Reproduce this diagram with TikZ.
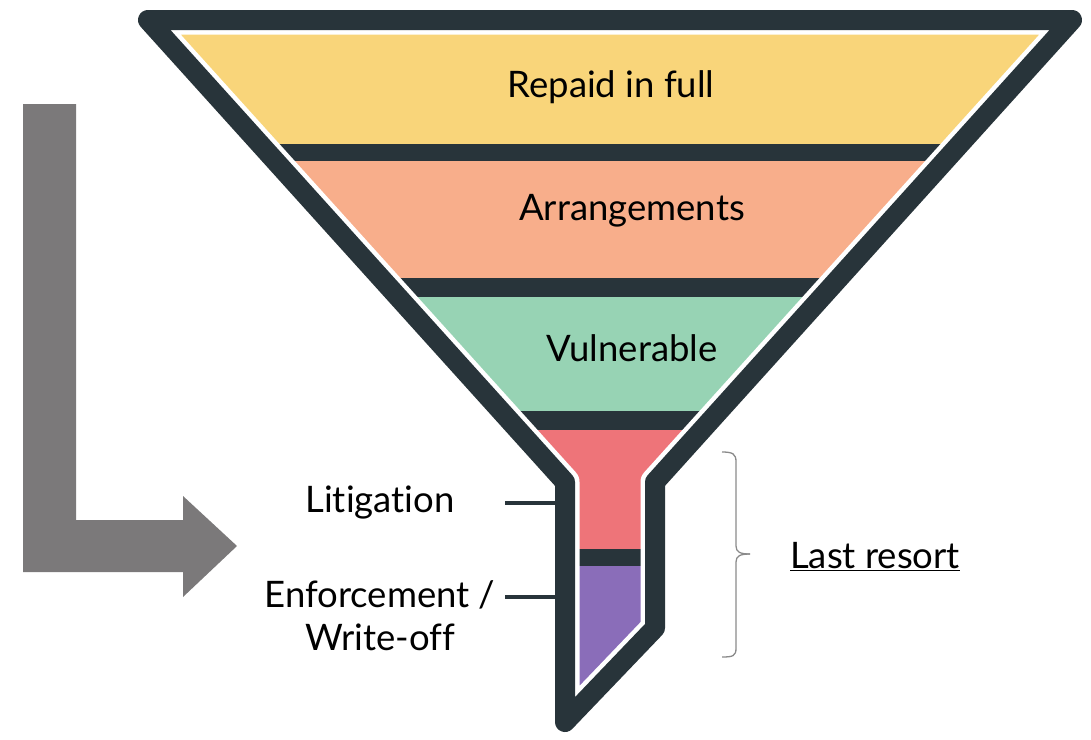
\documentclass[tikz,border=0pt]{standalone}
\usepackage{fontspec}
\setmainfont[Ligatures={NoCommon,NoRequired,NoContextual}]{Lato}
\definecolor{outl}{HTML}{28343A}
\definecolor{cyel}{HTML}{F9D57A}
\definecolor{cpea}{HTML}{F8AE8B}
\definecolor{cgrn}{HTML}{97D3B4}
\definecolor{cred}{HTML}{EE7479}
\definecolor{cpur}{HTML}{8A6DB9}
\definecolor{carr}{HTML}{7B797A}
\definecolor{cbrc}{HTML}{8A8A8A}
\begin{document}
\begin{tikzpicture}[x=1pt,y=-1pt,
  lab/.style={font=\fontsize{36.5}{43}\selectfont,text=black,inner sep=0pt,align=center},
  sep/.style={fill=outl},
  tick/.style={draw=outl,line width=4.5pt}]
\useasboundingbox (0,0) rectangle (1091,739);
% funnel centre line
\coordinate (TL) at (148,20);
\coordinate (TR) at (1072,20);
\coordinate (NR) at (655,482);
\coordinate (KR) at (655,628);
\coordinate (TIP) at (565,722);
\coordinate (NL) at (565,482);
\begin{scope}
  \clip (TL) -- (TR) -- (NR) -- (KR) -- (TIP) -- (NL) -- cycle;
  \fill[cyel] (100,0) rectangle (1091,144);
  \fill[cpea] (100,144) rectangle (1091,278);
  \fill[cgrn] (100,278) rectangle (1091,411);
  \fill[cred] (100,411) rectangle (1091,549);
  \fill[cpur] (100,549) rectangle (1091,739);
  \fill[sep] (100,144) rectangle (1091,161);
  \fill[sep] (100,278) rectangle (1091,297);
  \fill[sep] (100,411) rectangle (1091,430);
  \fill[sep] (100,549) rectangle (1091,566);
\end{scope}
\draw[white,line width=29pt,line join=round] (TL) -- (TR) -- (NR) -- (KR) -- (TIP) -- (NL) -- cycle;
\draw[outl,line width=20pt,line join=round] (TL) -- (TR) -- (NR) -- (KR) -- (TIP) -- (NL) -- cycle;
% labels
\node[lab] (repaid) at (611,87) {Repaid in full};
\node[lab] (arr) at (632,211) {Arrangements};
\node[lab] (vul) at (632,348) {Vulnerable};
\node[lab] (lit) at (380,503) {Litigation};
\node[lab] (enf) at (380,616) {Enforcement /\\Write-off};
\node[lab] (last) at (875,557) {\underline{Last resort}};
% ticks
\coordinate (litw) at (556,503);
\coordinate (enfw) at (556,597);
\coordinate (lits) at (505,503);
\coordinate (enfs) at (505,597);
\draw[tick] (lits) -- (litw);
\draw[tick] (enfs) -- (enfw);
% brace
\coordinate (bt) at (722,452);
\coordinate (bm) at (750,554);
\coordinate (bb) at (722,657);
\draw[cbrc,line width=1.3pt] (bt) .. controls (733,452) and (736,454) .. (736,462) -- (736,546) .. controls (736,552) and (740,554) .. (bm);
\draw[cbrc,line width=1.3pt] (bm) .. controls (740,554) and (736,556) .. (736,562) -- (736,648) .. controls (736,656) and (733,657) .. (bb);
% L arrow
\fill[carr] (23,104) -- (76,104) -- (76,520) -- (183,520) -- (183,496) -- (237,546) -- (183,597) -- (183,572) -- (23,572) -- cycle;
\end{tikzpicture}
\end{document}
